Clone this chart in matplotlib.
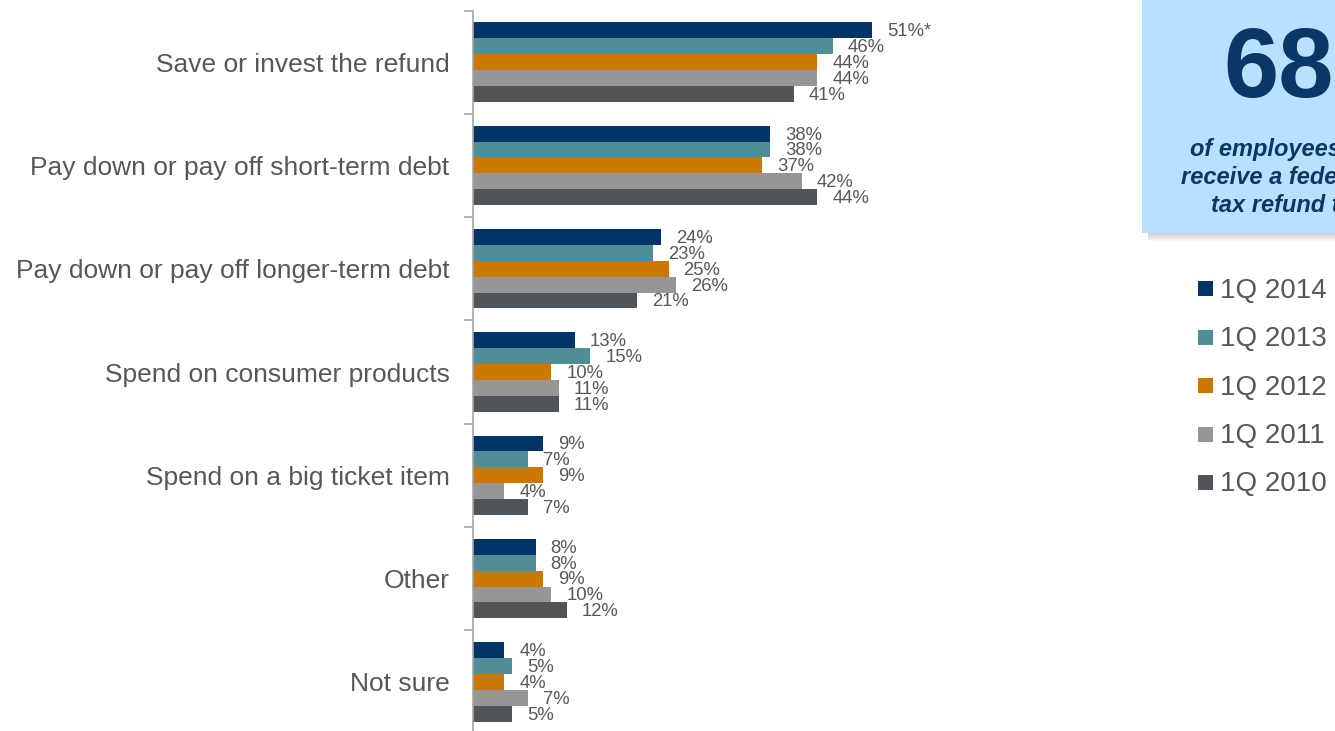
import matplotlib
matplotlib.use("Agg")
import matplotlib.pyplot as plt
from matplotlib.patches import Rectangle

# ---- data -------------------------------------------------------------
categories = [
    "Save or invest the refund",
    "Pay down or pay off short-term debt",
    "Pay down or pay off longer-term debt",
    "Spend on consumer products",
    "Spend on a big ticket item",
    "Other",
    "Not sure",
]
series = ["1Q 2014", "1Q 2013", "1Q 2012", "1Q 2011", "1Q 2010"]
q1_2014 = [51, 38, 24, 13, 9, 8, 4]
q1_2013 = [46, 38, 23, 15, 7, 8, 5]
q1_2012 = [44, 37, 25, 10, 9, 9, 4]
q1_2011 = [44, 42, 26, 11, 4, 10, 7]
q1_2010 = [41, 44, 21, 11, 7, 12, 5]
# significance marker appended to a value label: (series index, category index)
value_notes = {(0, 0): "*"}

headline_value = "68%"
headline_lines = ["of employees expect to", "receive a federal income", "tax refund this year"]

# ---- styling ----------------------------------------------------------
colors = ["#003366", "#508E96", "#CC7800", "#969696", "#50555A"]
text_gray = "#55585B"
axis_gray = "#A6A6A6"
navy = "#0B3766"
plt.rcParams["font.family"] = ["Liberation Sans", "DejaVu Sans"]

W, H = 1335, 731
fig = plt.figure(figsize=(W / 100, H / 100), dpi=100)


def fx(x):
    return x / W


def fy(y):
    return 1 - y / H


# ---- bar chart --------------------------------------------------------
ax = fig.add_axes([fx(473), fy(733.5), fx(1130) - fx(473), (733.5 - 10.5) / H])
data = [q1_2014, q1_2013, q1_2012, q1_2011, q1_2010]
n = len(series)
bh = 0.154
for j, (vals, c) in enumerate(zip(data, colors)):
    ys = [i + (j - (n - 1) / 2) * bh for i in range(len(categories))]
    ax.barh(ys, vals, height=bh, color=c, linewidth=0)
    for i, v in enumerate(vals):
        label = f"{v}%" + value_notes.get((j, i), "")
        ax.annotate(label, xy=(v, ys[i]), xytext=(10.8, -1),
                    textcoords="offset points", ha="left", va="center",
                    fontsize=13.3, color=text_gray)

ax.set_xlim(0, 84)
ax.set_ylim(len(categories) - 0.5, -0.5)
for s in ["top", "right", "bottom"]:
    ax.spines[s].set_visible(False)
ax.spines["left"].set_color(axis_gray)
ax.spines["left"].set_linewidth(1.2)
ax.set_xticks([])
ax.set_yticks(range(len(categories)))
ax.set_yticklabels(categories, fontsize=19, color=text_gray)
ax.tick_params(axis="y", which="major", length=0, pad=17)
ax.set_yticks([i - 0.5 for i in range(len(categories) + 1)], minor=True)
ax.tick_params(axis="y", which="minor", length=6.5, width=1.2, color=axis_gray)

# ---- headline callout box ---------------------------------------------
for k in range(8):
    fig.patches.append(Rectangle((fx(1148), fy(233 + 8 - k)), fx(1600) - fx(1148),
                                 (8 - k) / H, transform=fig.transFigure,
                                 facecolor="#808080", alpha=0.05, linewidth=0))
fig.patches.append(Rectangle((fx(1142), fy(233)), fx(1600) - fx(1142), 240 / H,
                             transform=fig.transFigure, facecolor="#B7E1FF",
                             linewidth=0))
fig.text(fx(1223), fy(97), headline_value, fontsize=71.5, fontweight="bold",
         color=navy, ha="left", va="baseline")
for x0, y0, line in zip([1190, 1181, 1211], [156, 184, 212], headline_lines):
    fig.text(fx(x0), fy(y0), line, fontsize=17, fontweight="bold", style="italic",
             color=navy, ha="left", va="baseline")

# ---- legend -----------------------------------------------------------
for k, (name, c) in enumerate(zip(series, colors)):
    top = 281 + k * 48.5
    fig.patches.append(Rectangle((fx(1198), fy(top + 15)), 15 / W, 15 / H,
                                 transform=fig.transFigure, facecolor=c, linewidth=0))
    fig.text(fx(1220), fy(top + 16.5), name, fontsize=20, color=text_gray,
             ha="left", va="baseline")

fig.savefig("out.png", dpi=100)
